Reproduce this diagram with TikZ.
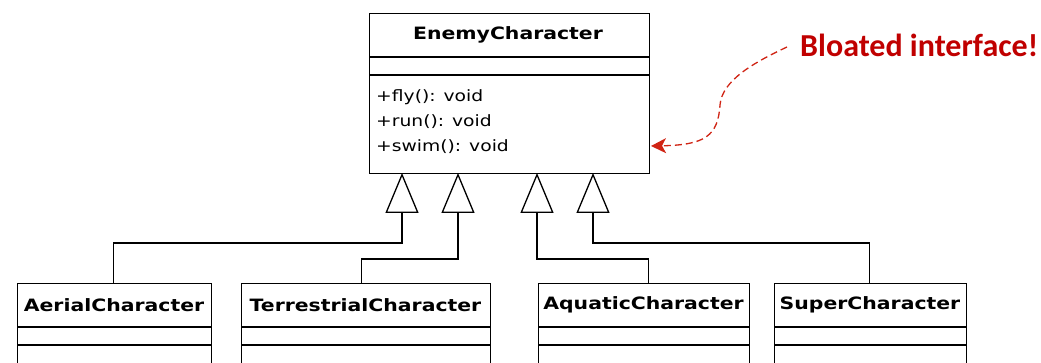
\documentclass[tikz,border=0pt]{standalone}
\usepackage{fontspec}
\setmainfont{DejaVu Sans}
\newfontfamily\umlfont{DejaVu Sans}[FakeStretch=1.2]
\newfontfamily\notefont{Carlito}
\usetikzlibrary{arrows.meta,calc}
\definecolor{notered}{HTML}{C00000}
\definecolor{arrowred}{HTML}{D02414}
\tikzset{
  umlbox/.style={draw, line width=1.3pt, fill=white, inner sep=0pt},
  divider/.style={line width=1.3pt},
  classname/.style={font=\umlfont\fontsize{17}{20}\selectfont\bfseries, inner sep=0pt},
  member/.style={font=\umlfont\fontsize{15.6}{19}\selectfont, inner sep=0pt, anchor=base west},
  inherit/.style={line width=1.3pt, -{Triangle[open,length=40pt,width=33pt,line width=1.3pt]}},
  note/.style={font=\notefont\fontsize{32}{36}\selectfont\bfseries, text=notered, inner sep=0pt},
  pointer/.style={arrowred, line width=1.3pt, dash pattern=on 7pt off 4pt, -{Stealth[length=15pt,width=15pt,inset=4pt]}}
}
\begin{document}
\begin{tikzpicture}[x=1pt,y=-1pt]
\useasboundingbox (0,0) rectangle (1041,363);
\clip (0,0) rectangle (1041,363);

% base class with its three compartments
\node[umlbox, minimum width=280pt, minimum height=160pt, anchor=north west] (enemy) at (369,13) {};
\draw[divider] (enemy.west |- 0,57) -- (enemy.east |- 0,57) (enemy.west |- 0,75) -- (enemy.east |- 0,75);
\node[classname] (enemyname) at (508,35) {EnemyCharacter};
\node[member] (m1) at (376,102) {+fly(): void};
\node[member] (m2) at (376,127) {+run(): void};
\node[member] (m3) at (376,152) {+swim(): void};

% subclasses (cut off at the lower edge)
\node[umlbox, minimum width=194pt, minimum height=100pt, anchor=north west] (aerial) at (17,283) {};
\node[umlbox, minimum width=249pt, minimum height=100pt, anchor=north west] (terr) at (241,283) {};
\node[umlbox, minimum width=211pt, minimum height=100pt, anchor=north west] (aqua) at (538,283) {};
\node[umlbox, minimum width=192pt, minimum height=100pt, anchor=north west] (super) at (774,283) {};
\foreach \n in {aerial, terr, aqua, super}{
  \draw[divider] (\n.west |- 0,327) -- (\n.east |- 0,327) (\n.west |- 0,345) -- (\n.east |- 0,345);
}
\node[classname] (aerialname) at (114,305) {AerialCharacter};
\node[classname] (terrname) at (365.5,305) {TerrestrialCharacter};
\node[classname] (aquaname) at (643.5,305) {AquaticCharacter};
\node[classname] (supername) at (870,305) {SuperCharacter};

% generalisation connectors
\coordinate (e1) at (402,173);
\coordinate (e2) at (458,173);
\coordinate (e3) at (537,173);
\coordinate (e4) at (593,173);
\coordinate (k1) at (402,243);
\coordinate (k2) at (458,259);
\coordinate (k3) at (537,259);
\coordinate (k4) at (593,243);
\draw[inherit] ($(aerial.north west)!0.495!(aerial.north east)$) |- (k1) -- (e1);
\draw[inherit] ($(terr.north west)!0.482!(terr.north east)$) |- (k2) -- (e2);
\draw[inherit] ($(aqua.north west)!0.521!(aqua.north east)$) |- (k3) -- (e3);
\draw[inherit] ($(super.north west)!0.495!(super.north east)$) |- (k4) -- (e4);

% annotation
\node[note, anchor=west] (bloat) at (800,45) {Bloated interface!};
\coordinate (tip) at (651,146);
\draw[pointer] ($(bloat.west)+(-13,2)$) .. controls (755,62) and (722,80) .. (720,105)
  .. controls (718,136) and (705,145) .. (tip);
\end{tikzpicture}
\end{document}
